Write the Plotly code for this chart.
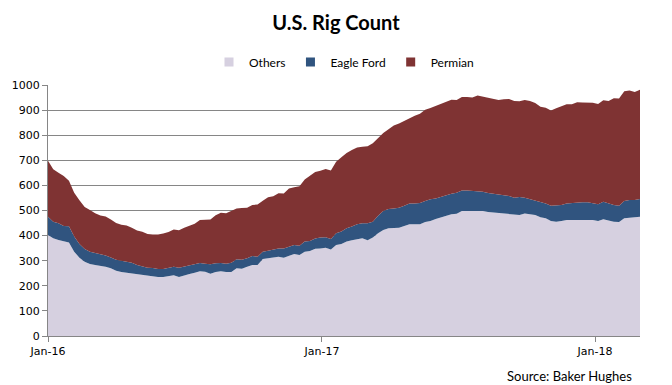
import pandas as pd
import plotly.graph_objects as go

# Weekly data, first week Jan 1 2016
start_date = "2016-01-01"
n_weeks = 114

others = [402, 389, 382, 376, 373, 336, 312, 296, 287, 283, 280, 276, 270, 260, 255, 252, 250, 246, 242, 239,
          236, 235, 235, 239, 242, 235, 242, 247, 252, 258, 256, 248, 255, 258, 255, 255, 270, 268, 276, 283,
          283, 307, 310, 313, 316, 312, 320, 327, 323, 336, 339, 348, 349, 352, 345, 363, 367, 376, 381, 386,
          389, 381, 392, 409, 422, 429, 431, 431, 438, 445, 445, 445, 454, 458, 466, 473, 481, 485, 487, 498,
          498, 498, 501, 498, 494, 492, 490, 490, 488, 485, 482, 488, 485, 482, 473, 469, 458, 455, 458, 462,
          462, 462, 463, 463, 462, 458, 465, 460, 455, 454, 469, 471, 473, 475]

eagle_ford = [73, 66, 67, 62, 64, 60, 55, 51, 49, 48, 47, 45, 43, 44, 45, 44, 42, 37, 34, 33,
              35, 32, 32, 32, 34, 37, 34, 33, 34, 33, 32, 38, 35, 33, 33, 37, 36, 36, 34, 36,
              33, 29, 30, 32, 33, 37, 36, 36, 37, 40, 39, 40, 43, 41, 41, 46, 49, 53, 55, 59,
              60, 68, 63, 70, 76, 77, 77, 80, 81, 83, 83, 85, 84, 87, 82, 82, 81, 82, 84, 82,
              82, 80, 77, 77, 76, 75, 73, 73, 70, 66, 72, 63, 61, 57, 62, 59, 61, 64, 64, 66,
              68, 71, 70, 70, 68, 67, 70, 67, 67, 65, 69, 71, 69, 71]

permian = [223, 209, 201, 199, 182, 175, 174, 167, 166, 158, 153, 155, 151, 146, 143, 144, 139, 137, 139, 134,
           133, 137, 141, 143, 148, 149, 155, 160, 161, 171, 175, 178, 191, 200, 201, 205, 202, 206, 201, 203,
           208, 203, 213, 212, 220, 219, 232, 230, 237, 248, 259, 265, 266, 272, 273, 285, 296, 300, 305, 306,
           305, 307, 313, 310, 311, 318, 331, 336, 338, 342, 349, 355, 363, 363, 368, 372, 371, 374, 369, 372,
           372, 372, 380, 379, 379, 379, 377, 380, 386, 385, 381, 389, 390, 389, 378, 381, 379, 388, 393, 395,
           393, 398, 397, 398, 399, 399, 404, 409, 425, 427, 437, 436, 430, 435]

series_names = ["Others", "Eagle Ford", "Permian"]
series_colors = ["#D6D0E0", "#30547F", "#7F3333"]

tick_dates = ["2016-01-01", "2017-01-01", "2018-01-01"]
tick_labels = ["Jan-16", "Jan-17", "Jan-18"]

dates = pd.date_range(start_date, periods=n_weeks, freq="7D")

fig = go.Figure()
for name, vals, col in zip(series_names, [others, eagle_ford, permian], series_colors):
    fig.add_trace(go.Scatter(
        x=dates, y=vals, name=name, mode="lines", stackgroup="one",
        line=dict(width=0, color=col), fillcolor=col, showlegend=False,
    ))
# legend entries with square swatches
for name, col in zip(series_names, series_colors):
    fig.add_trace(go.Scatter(
        x=[None], y=[None], name=name, mode="markers",
        marker=dict(symbol="square", size=9, color=col), showlegend=True,
    ))

fig.update_layout(
    width=672, height=385,
    paper_bgcolor="white", plot_bgcolor="white",
    margin=dict(l=48, r=32, t=85, b=49),
    title=dict(text="<b>U.S. Rig Count</b>", x=0.5, xanchor="center",
               y=1 - 23 / 385, yanchor="middle", yref="container",
               font=dict(family="Lato", size=20, color="black")),
    legend=dict(orientation="h", x=0.5, xanchor="center", y=1.092, yanchor="middle",
                traceorder="normal", font=dict(family="Lato", size=12, color="black"),
                itemwidth=30, bgcolor="rgba(0,0,0,0)"),
    showlegend=True,
    xaxis=dict(range=[dates[0], dates[-1]], tickvals=tick_dates, ticktext=tick_labels,
               showgrid=False, showline=True, linecolor="#868686", linewidth=1,
               ticks="outside", ticklen=5, tickcolor="#868686",
               tickfont=dict(family="DejaVu Sans", size=11, color="black"), zeroline=False),
    yaxis=dict(range=[0, 1000], dtick=100, showgrid=True, gridcolor="#868686", gridwidth=1,
               showline=True, linecolor="#868686", linewidth=1,
               ticks="outside", ticklen=5, tickcolor="#868686",
               tickfont=dict(family="DejaVu Sans", size=11, color="black"), zeroline=False),
    annotations=[dict(text="Source: Baker Hughes", xref="paper", yref="paper",
                      x=0.99, y=-0.16, xanchor="right", yanchor="middle", showarrow=False,
                      font=dict(family="Lato", size=13, color="black"))],
)

fig.write_html("out.html", config={"displayModeBar": False},
               post_script="document.body.style.margin='0';document.body.style.overflow='hidden';")
